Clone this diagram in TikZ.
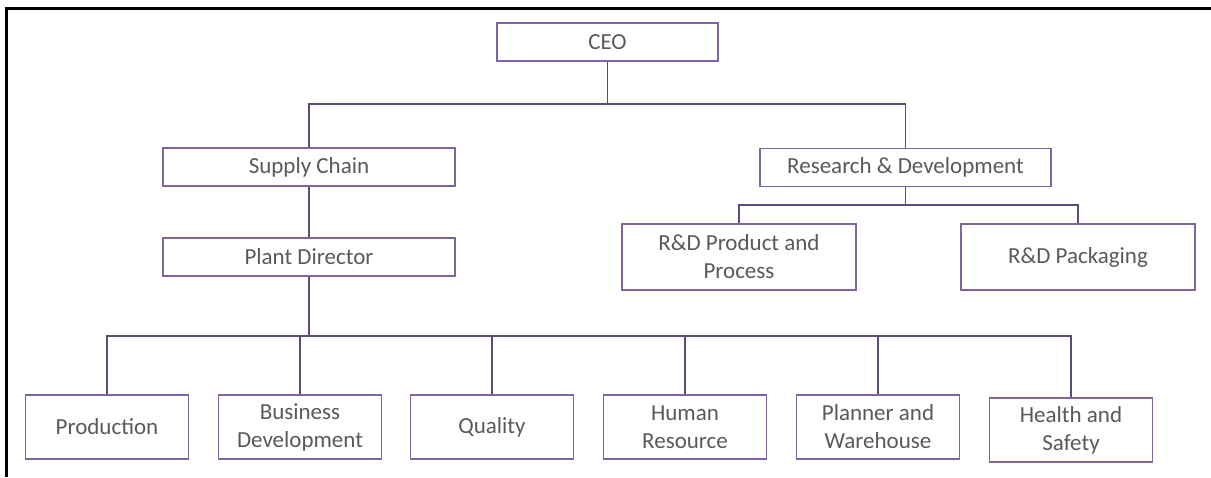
\documentclass[tikz,border=0pt]{standalone}
\usepackage{fontspec}
\setmainfont{Carlito}
\usetikzlibrary{positioning}
\definecolor{boxline}{RGB}{128,100,162}
\definecolor{wire}{RGB}{95,73,122}
\definecolor{txtgray}{RGB}{89,89,89}

\begin{document}
\begin{tikzpicture}[x=0.5pt,y=-0.5pt,font=\fontsize{11.5}{14}\selectfont]
  \tikzstyle{unit}=[draw=boxline,line width=0.7pt,text=txtgray,align=center,inner sep=0pt,minimum width=146pt,minimum height=19pt]
  \tikzstyle{dept}=[unit,minimum width=117pt,minimum height=33pt]
  \tikzstyle{team}=[unit,minimum width=81.5pt,minimum height=32pt]
  \tikzstyle{wire}=[draw=wire,line width=0.7pt]
  \useasboundingbox (0,0) rectangle (1211,477);
  % outer frame
  \draw[line width=1.5pt] (6,477) -- (6,8) -- (1211,8);
  % top levels
  \node[unit,minimum width=110.5pt] (ceo) at (607.5,42) {CEO};
  \node[unit] (supply) at (309,167) {Supply Chain};
  \node[unit,minimum width=145.5pt] (rnd) at (905.5,167.5) {Research \& Development};
  \node[unit] (plant) at (309,257) {Plant Director};
  \node[dept] (rndprod) at (739,257) {R\&D Product and\\Process};
  \node[dept] (rndpack) at (1078,257) {R\&D Packaging};
  % plant teams
  \node[team] (prod) at (107,427) {Production};
  \node[team] (busdev) at (300,427) {Business\\Development};
  \node[team] (quality) at (492,427) {Quality};
  \node[team] (hr) at (685,427) {Human\\Resource};
  \node[team] (planner) at (878,427) {Planner and\\Warehouse};
  \node[team] (health) at (1071,430) {Health and\\Safety};
  % connectors
  \coordinate (ceobus) at (607.5,104);
  \coordinate (rndbus) at (905.5,205);
  \coordinate (plantbus) at (309,336);
  \draw[wire] (ceo.south) -- (ceobus) -| (supply.north);
  \draw[wire] (ceobus) -| (rnd.north);
  \draw[wire] (supply) -- (plant);
  \draw[wire] (rnd.south) -- (rndbus) -| (rndprod.north);
  \draw[wire] (rndbus) -| (rndpack.north);
  \draw[wire] (plant.south) -- (plantbus) -| (prod.north);
  \draw[wire] (plantbus) -| (busdev.north);
  \draw[wire] (plantbus) -| (quality.north);
  \draw[wire] (plantbus) -| (hr.north);
  \draw[wire] (plantbus) -| (planner.north);
  \draw[wire] (plantbus) -| (health.north);
\end{tikzpicture}
\end{document}
